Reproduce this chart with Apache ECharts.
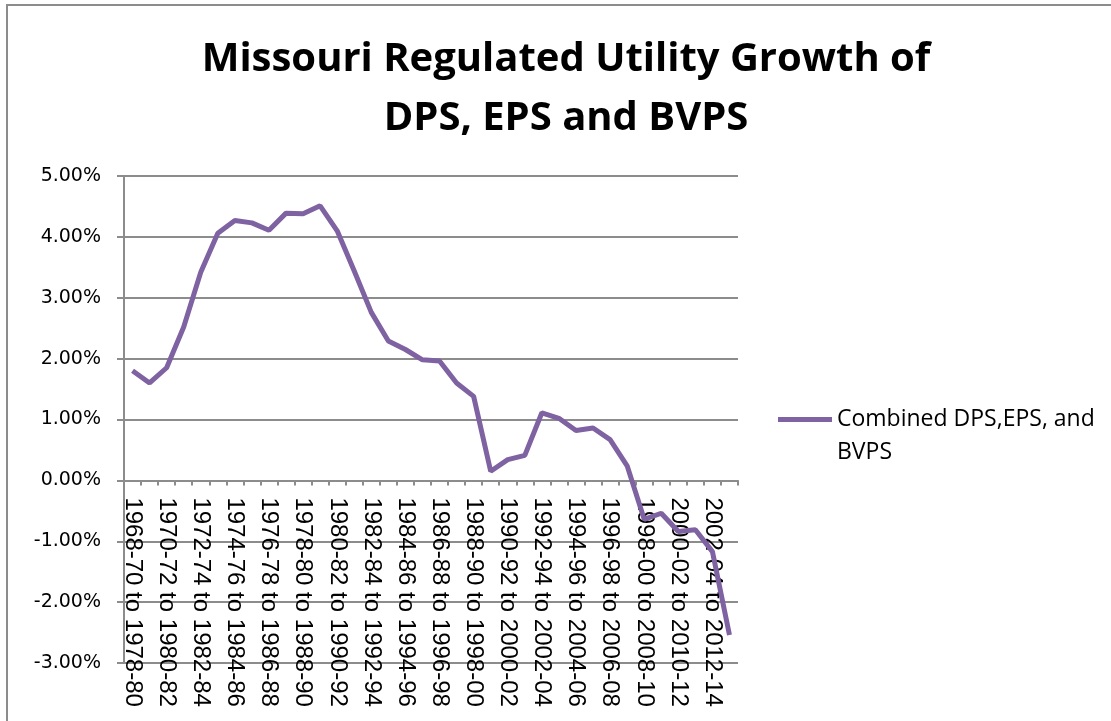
<!DOCTYPE html>
<html>
<head>
<meta charset="utf-8">
<script src="https://cdn.jsdelivr.net/npm/echarts@6/dist/echarts.min.js"></script>
<style>
  html, body { margin: 0; padding: 0; background: #fff; }
  #chart1 { width: 1111px; height: 721px; }
</style>
</head>
<body>
<div id="chart1"></div>
<script>
// periods (10-year windows of 2-year averages)
const categories = [
    '1968-70 to 1978-80', '1969-71 to 1979-81', '1970-72 to 1980-82', '1971-73 to 1981-83',
    '1972-74 to 1982-84', '1973-75 to 1983-85', '1974-76 to 1984-86', '1975-77 to 1985-87',
    '1976-78 to 1986-88', '1977-79 to 1987-89', '1978-80 to 1988-90', '1979-81 to 1989-91',
    '1980-82 to 1990-92', '1981-83 to 1991-93', '1982-84 to 1992-94', '1983-85 to 1993-95',
    '1984-86 to 1994-96', '1985-87 to 1995-97', '1986-88 to 1996-98', '1987-89 to 1997-99',
    '1988-90 to 1998-00', '1989-91 to 1999-01', '1990-92 to 2000-02', '1991-93 to 2001-03',
    '1992-94 to 2002-04', '1993-95 to 2003-05', '1994-96 to 2004-06', '1995-97 to 2005-07',
    '1996-98 to 2006-08', '1997-99 to 2007-09', '1998-00 to 2008-10', '1999-01 to 2009-11',
    '2000-02 to 2010-12', '2001-03 to 2011-13', '2002-04 to 2012-14', '2003-05 to 2013-15'
];

// growth in percent
const combined = [
    1.80, 1.60, 1.85, 2.52, 3.42, 4.06, 4.27, 4.23, 4.11, 4.39, 4.38, 4.51,
    4.10, 3.44, 2.76, 2.29, 2.15, 1.98, 1.96, 1.60, 1.38, 0.15, 0.34, 0.41,
    1.11, 1.02, 0.82, 0.86, 0.67, 0.24, -0.64, -0.54, -0.84, -0.81, -1.17, -2.54
];

const seriesName = 'Combined DPS,EPS, and BVPS';
const yMin = -3, yMax = 5, yStep = 1;

const gridTop = 176, gridHeight = 487;
// move the category axis (line, ticks and labels) up to the zero line
const zeroOffset = -gridHeight * (0 - yMin) / (yMax - yMin);

let chart1 = echarts.init(document.getElementById('chart1'));
chart1.setOption({
    animation: false,
    backgroundColor: '#fff',
    title: {
        text: 'Missouri Regulated Utility Growth of\nDPS, EPS and BVPS',
        left: 561,
        top: 25,
        textAlign: 'center',
        textStyle: {
            fontFamily: 'Open Sans',
            fontWeight: 'bold',
            fontSize: 40,
            lineHeight: 59,
            color: '#000'
        }
    },
    legend: {
        data: [seriesName],
        left: 773,
        top: 365,
        icon: 'rect',
        itemWidth: 54,
        itemHeight: 5,
        itemGap: 0,
        formatter: function () {
            return '\nCombined DPS,EPS, and\nBVPS';
        },
        textStyle: {
            fontFamily: 'Open Sans',
            fontSize: 23,
            lineHeight: 33,
            color: '#000'
        }
    },
    graphic: [{
        type: 'rect',
        shape: { x: 7, y: 5, width: 1200, height: 800 },
        style: { fill: 'none', stroke: '#8c8c8c', lineWidth: 2 },
        silent: true,
        z: -1
    }],
    grid: {
        left: 124,
        top: gridTop,
        width: 614,
        height: gridHeight,
        containLabel: false,
        outerBoundsMode: 'none'
    },
    xAxis: {
        type: 'category',
        data: categories,
        boundaryGap: true,
        offset: zeroOffset,
        axisLine: { onZero: false, lineStyle: { color: '#8c8c8c', width: 2 } },
        axisTick: { show: true, interval: 0, length: 5, lineStyle: { color: '#8c8c8c', width: 2 } },
        axisLabel: {
            interval: 1,
            rotate: -90,
            margin: 17,
            fontFamily: 'Liberation Sans',
            fontSize: 24,
            color: '#000'
        },
        splitLine: { show: false }
    },
    yAxis: {
        type: 'value',
        min: yMin,
        max: yMax,
        interval: yStep,
        axisLine: { show: true, lineStyle: { color: '#8c8c8c', width: 2 } },
        axisTick: { show: true, length: 7, lineStyle: { color: '#8c8c8c', width: 2 } },
        axisLabel: {
            margin: 23,
            fontFamily: 'DejaVu Sans',
            fontSize: 19,
            color: '#000',
            formatter: function (v) { return v.toFixed(2) + '%'; }
        },
        splitLine: { show: true, lineStyle: { color: '#8c8c8c', width: 2 } }
    },
    series: [{
        name: seriesName,
        type: 'line',
        data: combined,
        symbol: 'none',
        smooth: false,
        lineStyle: { color: '#7F62A1', width: 5 },
        itemStyle: { color: '#7F62A1' },
        z: 3
    }]
});
</script>
</body>
</html>
